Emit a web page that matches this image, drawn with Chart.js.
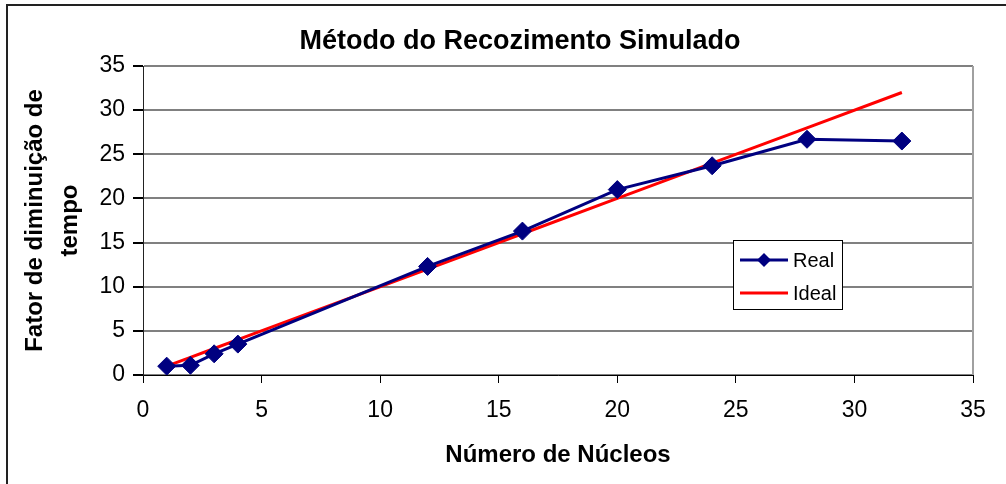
<!DOCTYPE html>
<html>
<head>
<meta charset="utf-8">
<title>Método do Recozimento Simulado</title>
<script src="https://cdn.jsdelivr.net/npm/chart.js@4"></script>
<style>
  html, body { margin: 0; padding: 0; background: #fff; }
  #wrap { width: 1006px; height: 484px; }
</style>
</head>
<body>
<div id="wrap"><canvas id="myChart" width="1006" height="484"></canvas></div>
<script>
// dados do gráfico
const nucleos = [1, 2, 3, 4, 12, 16, 20, 24, 28, 32];
const real = [1.0, 1.1, 2.4, 3.5, 12.3, 16.3, 21.0, 23.7, 26.7, 26.5];
const ideal = [1, 2, 3, 4, 12, 16, 20, 24, 28, 32];
const xTicks = [0, 5, 10, 15, 20, 25, 30, 35];
const yTicks = [0, 5, 10, 15, 20, 25, 30, 35];

const FONT = "'Liberation Sans', Arial, sans-serif";

// borda externa, borda da área de plotagem, título e legenda
const decor = {
  id: "decor",
  beforeDraw(chart) {
    const ctx = chart.ctx;
    ctx.save();
    ctx.fillStyle = "#fff";
    ctx.fillRect(0, 0, chart.width, chart.height);
    ctx.strokeStyle = "#222";
    ctx.lineWidth = 2;
    ctx.strokeRect(7, 5, chart.width + 20, chart.height + 20);
    ctx.restore();
  },
  afterDatasetsDraw(chart) {
    const ctx = chart.ctx;
    const a = chart.chartArea;
    ctx.save();
    // lado direito da área de plotagem
    ctx.strokeStyle = "#a0a0a0";
    ctx.lineWidth = 2;
    ctx.beginPath();
    ctx.moveTo(a.right, a.top);
    ctx.lineTo(a.right, a.bottom);
    ctx.stroke();

    // título
    ctx.fillStyle = "#000";
    ctx.font = "bold 27px " + FONT;
    ctx.textAlign = "center";
    ctx.textBaseline = "middle";
    ctx.fillText("Método do Recozimento Simulado", 520, 42);

    // legenda
    const bx = 733, by = 240, bw = 109, bh = 69;
    ctx.fillStyle = "#fff";
    ctx.fillRect(bx, by, bw, bh);
    ctx.strokeStyle = "#000";
    ctx.lineWidth = 1;
    ctx.strokeRect(bx + 0.5, by + 0.5, bw, bh);
    ctx.font = "20px " + FONT;
    ctx.textAlign = "left";
    chart.data.datasets.forEach((ds, i) => {
      const y = by + 20 + i * 33;
      ctx.strokeStyle = ds.borderColor;
      ctx.lineWidth = 3;
      ctx.beginPath();
      ctx.moveTo(bx + 7, y);
      ctx.lineTo(bx + 55, y);
      ctx.stroke();
      if (ds.pointRadius > 0) {
        ctx.fillStyle = ds.pointBackgroundColor;
        ctx.beginPath();
        ctx.moveTo(bx + 31, y - 7);
        ctx.lineTo(bx + 38, y);
        ctx.lineTo(bx + 31, y + 7);
        ctx.lineTo(bx + 24, y);
        ctx.closePath();
        ctx.fill();
      }
      ctx.fillStyle = "#000";
      ctx.fillText(ds.label, bx + 60, y + 1);
    });
    ctx.restore();
  },
};

const chart = new Chart(document.getElementById("myChart"), {
  type: "scatter",
  data: {
    datasets: [
      {
        label: "Real",
        data: nucleos.map((n, i) => ({ x: n, y: real[i] })),
        showLine: true,
        borderColor: "#000080",
        backgroundColor: "#000080",
        pointBackgroundColor: "#000080",
        pointBorderColor: "#000080",
        borderWidth: 3,
        pointStyle: "rectRot",
        pointRadius: 9,
        pointBorderWidth: 1,
      },
      {
        label: "Ideal",
        data: nucleos.map((n, i) => ({ x: n, y: ideal[i] })),
        showLine: true,
        borderColor: "#ff0000",
        backgroundColor: "#ff0000",
        borderWidth: 3,
        pointRadius: 0,
      },
    ],
  },
  options: {
    responsive: false,
    animation: false,
    layout: { padding: { top: 66, right: 33, left: 0, bottom: 0 } },
    plugins: {
      legend: { display: false },
      title: { display: false },
      tooltip: { enabled: false },
    },
    scales: {
      x: {
        type: "linear",
        min: 0,
        max: 35,
        afterBuildTicks: (s) => { s.ticks = xTicks.map((v) => ({ value: v })); },
        afterFit: (s) => { s.height = 109; },
        ticks: { color: "#000", font: { family: FONT, size: 23 }, padding: 14 },
        grid: { drawOnChartArea: false, tickLength: 8, tickColor: "#000" },
        border: { color: "#000", width: 1 },
        title: {
          display: true,
          text: "Número de Núcleos",
          color: "#000",
          font: { family: FONT, size: 24, weight: "bold" },
          padding: { bottom: 14 },
        },
      },
      y: {
        min: 0,
        max: 35,
        afterBuildTicks: (s) => { s.ticks = yTicks.map((v) => ({ value: v })); },
        afterFit: (s) => { s.width = 143; },
        ticks: { color: "#000", font: { family: FONT, size: 23 }, padding: 8 },
        grid: { color: "#808080", lineWidth: 2, tickLength: 10, tickColor: "#000" },
        border: { color: "#222", width: 1 },
        title: {
          display: true,
          text: ["Fator de diminuição de", "tempo"],
          color: "#000",
          font: { family: FONT, size: 24, weight: "bold", lineHeight: 1.45 },
          padding: { top: 18 },
        },
      },
    },
  },
  plugins: [decor],
});
</script>
</body>
</html>
